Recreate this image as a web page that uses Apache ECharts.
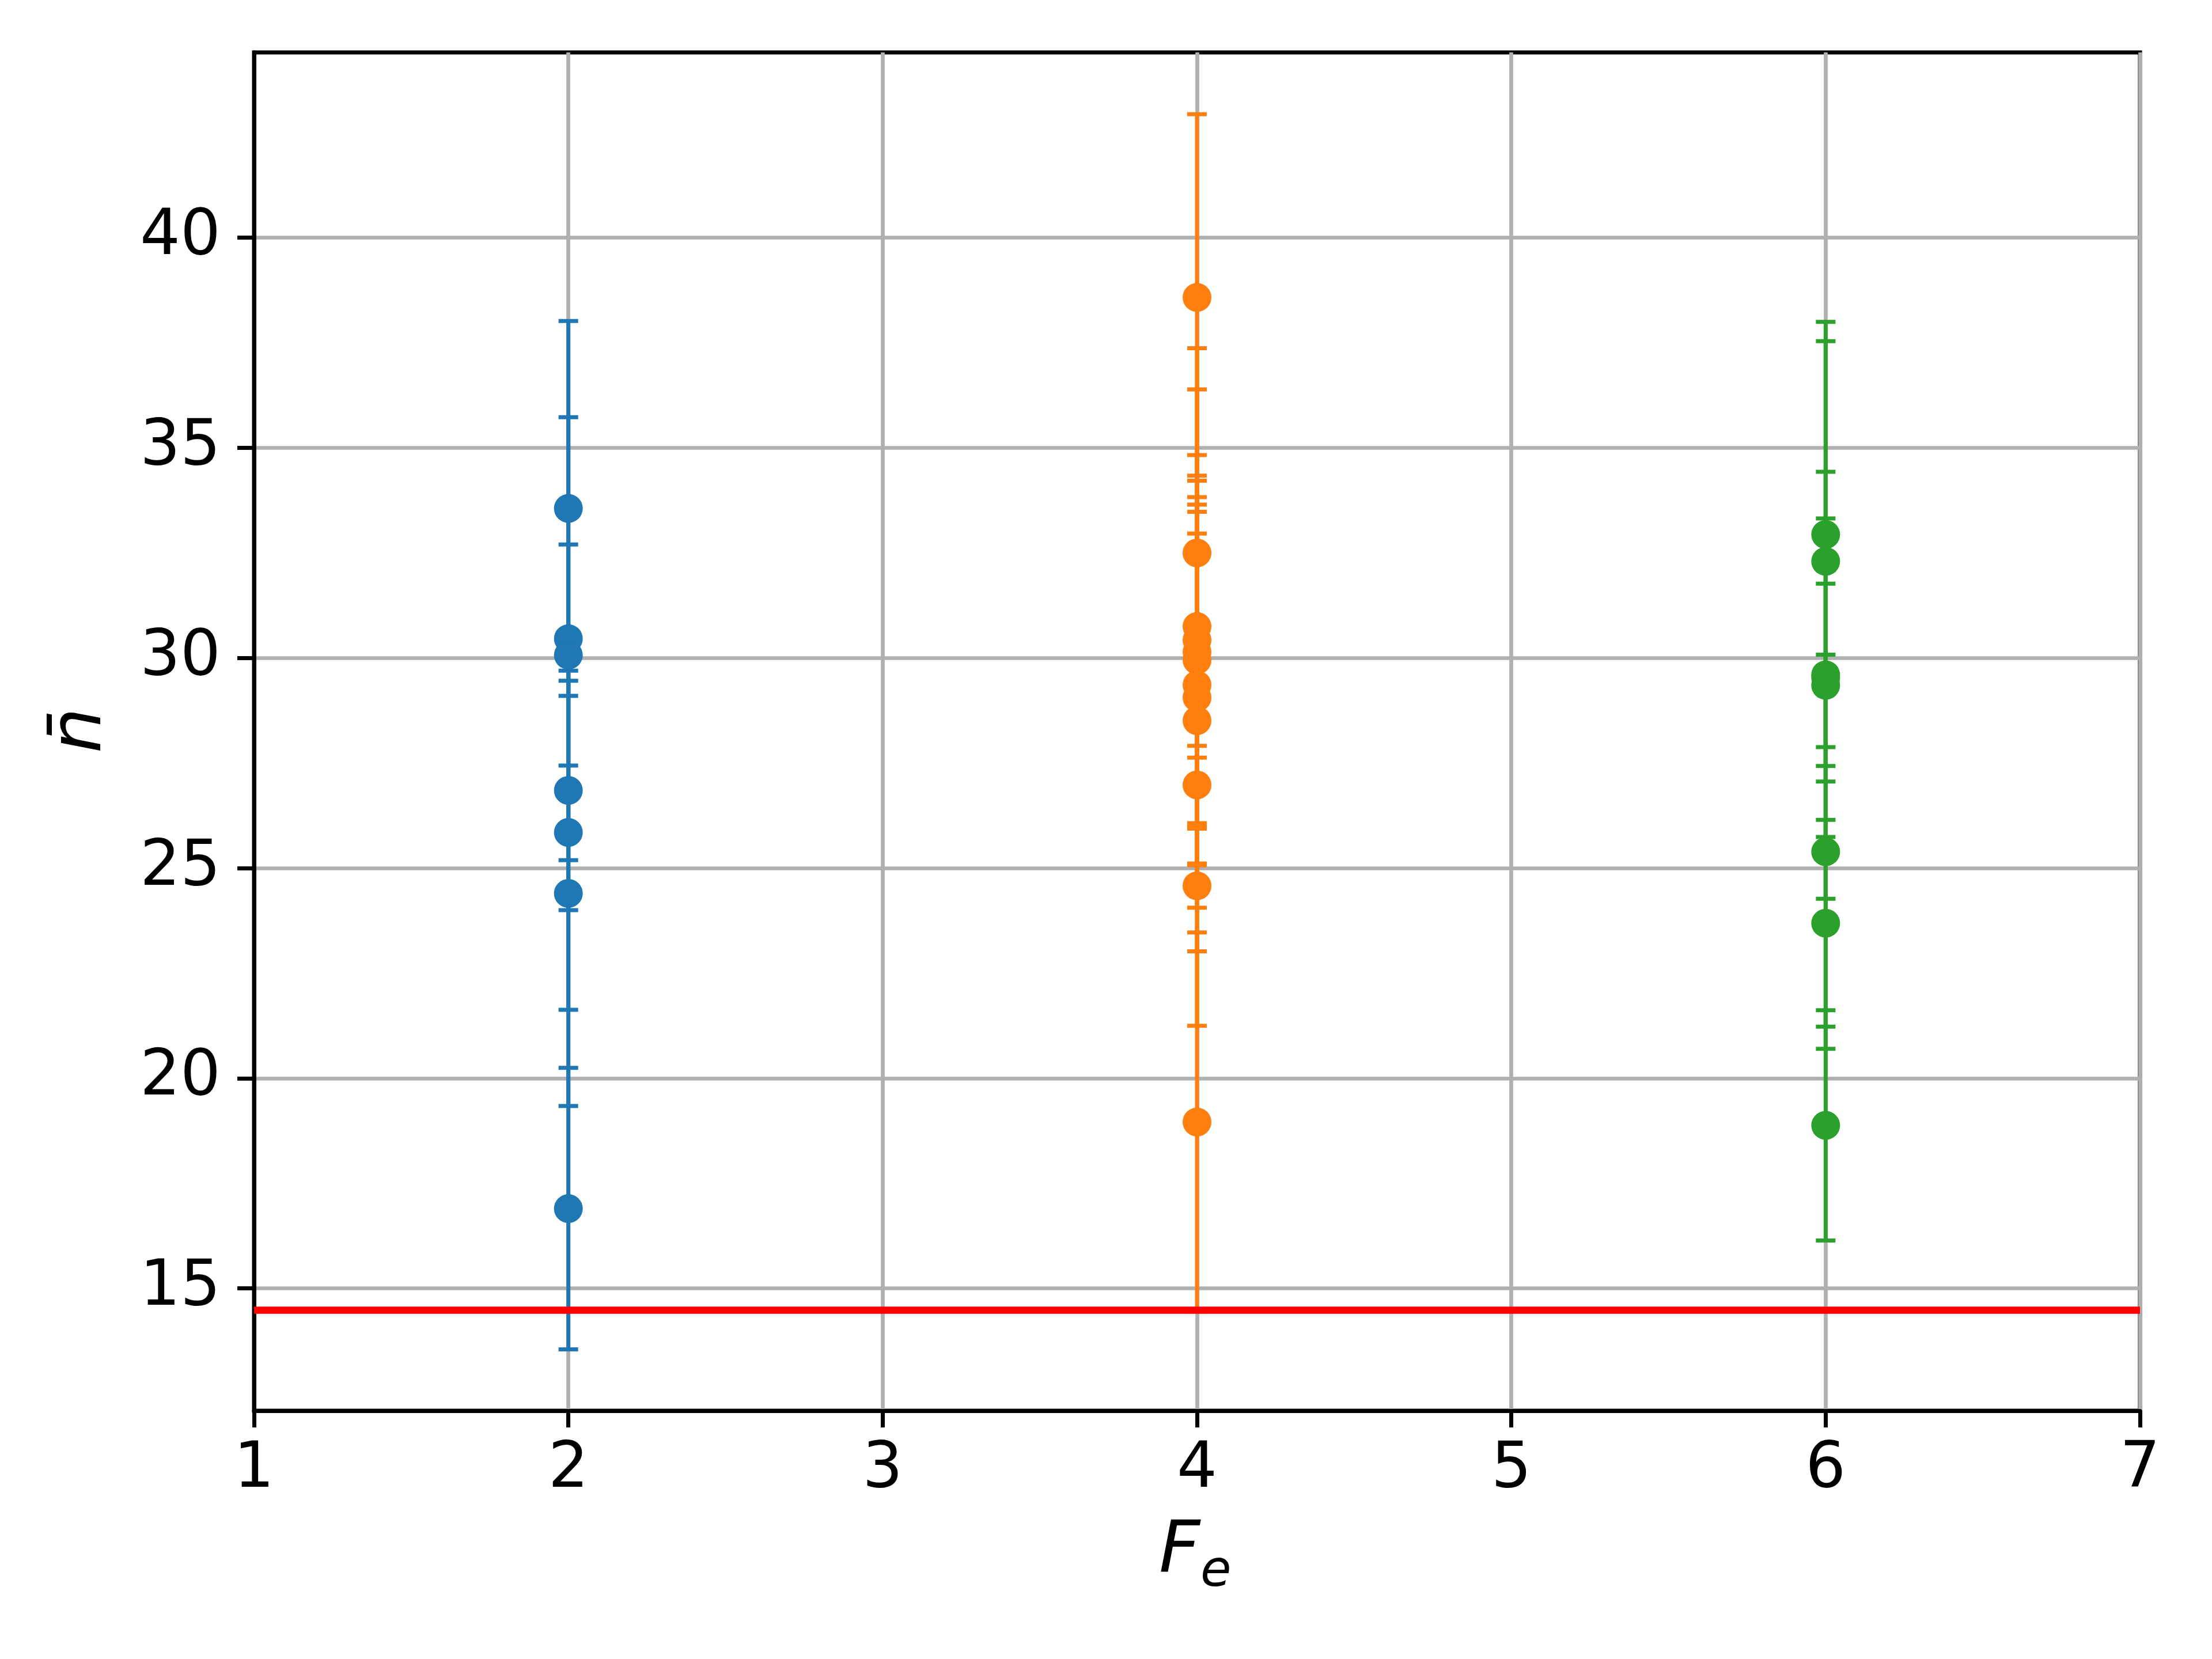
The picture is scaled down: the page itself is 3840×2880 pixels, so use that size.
<!DOCTYPE html>
<html>
<head>
<meta charset="utf-8">
<script src="https://cdn.jsdelivr.net/npm/echarts@6/dist/echarts.min.js"></script>
<style>html,body{margin:0;padding:0;background:#fff}#c{width:3840px;height:2880px}</style>
</head>
<body>
<div id="c"></div>
<script>
// ---- data ----
const xTickValues = [1, 2, 3, 4, 5, 6, 7];
const yTickValues = [15, 20, 25, 30, 35, 40];
const blueX = 2;
const blueMean = [33.56, 30.46, 30.07, 26.85, 25.85, 24.40, 16.90];
const blueErr  = [4.46, 5.27, 2.63, 2.85, 4.22, 5.06, 3.35];
const orangeX = 4;
const orangeMean = [38.58, 32.50, 30.75, 30.43, 30.14, 29.95, 29.36, 29.06, 28.51, 26.98, 24.58, 18.96];
const orangeErr  = [4.36, 4.87, 5.64, 4.40, 4.20, 3.88, 4.29, 4.42, 4.45, 3.96, 3.33, 4.51];
const greenX = 6;
const greenMean = [32.94, 32.30, 29.60, 29.53, 29.35, 25.39, 23.69, 18.88];
const greenErr  = [5.06, 5.24, 2.17, 3.79, 5.08, 4.69, 2.46, 2.74];
const redLevel = 14.49;
const xLabel = 'F';
const xLabelSub = 'e';
const yLabel = 'n\u0304';

const colors = { blue: '#1f77b4', orange: '#ff7f0e', green: '#2ca02c', red: '#ff0000' };
const FONT = "'DejaVu Sans'";

function errData(x, means, errs) { return means.map((m, i) => [x, m, errs[i]]); }
function ptData(x, means) { return means.map(m => [x, m]); }

function errRenderer(color) {
  return function (params, api) {
    const x = api.value(0), y = api.value(1), e = api.value(2);
    const hi = api.coord([x, y + e]), lo = api.coord([x, y - e]);
    const cw = 17;
    const style = { stroke: color, lineWidth: 7, fill: null };
    return {
      type: 'group',
      children: [
        { type: 'line', shape: { x1: hi[0], y1: hi[1], x2: lo[0], y2: lo[1] }, style: style },
        { type: 'line', shape: { x1: hi[0] - cw, y1: hi[1], x2: hi[0] + cw, y2: hi[1] }, style: style },
        { type: 'line', shape: { x1: lo[0] - cw, y1: lo[1], x2: lo[0] + cw, y2: lo[1] }, style: style }
      ]
    };
  };
}

const groups = [
  { x: blueX, mean: blueMean, err: blueErr, color: colors.blue },
  { x: orangeX, mean: orangeMean, err: orangeErr, color: colors.orange },
  { x: greenX, mean: greenMean, err: greenErr, color: colors.green }
];

const series = [];
groups.forEach(g => {
  series.push({
    type: 'custom', renderItem: errRenderer(g.color), data: errData(g.x, g.mean, g.err),
    encode: { x: 0, y: 1 }, z: 2, silent: true, animation: false
  });
});
groups.forEach(g => {
  series.push({
    type: 'scatter', data: ptData(g.x, g.mean), symbol: 'circle', symbolSize: 50,
    itemStyle: { color: g.color, opacity: 1 }, z: 3, silent: true, animation: false
  });
});
series.push({
  type: 'line', data: [], z: 4, silent: true, animation: false,
  markLine: {
    silent: true, symbol: 'none', animation: false,
    label: { show: false },
    lineStyle: { color: colors.red, width: 12.5, type: 'solid' },
    data: [{ yAxis: redLevel }]
  }
});

const chart = echarts.init(document.getElementById('c'), null, { renderer: 'canvas', width: 3840, height: 2880 });
chart.setOption({
  animation: false,
  backgroundColor: '#ffffff',
  grid: { left: 441, right: 125, top: 91, bottom: 431, show: true, borderColor: '#000', borderWidth: 7, backgroundColor: 'transparent' },
  xAxis: {
    type: 'value', min: 1, max: 7, interval: 1,
    axisLine: { show: true, lineStyle: { color: '#000', width: 7 } },
    axisTick: { show: true, inside: false, length: 29, lineStyle: { color: '#000', width: 7 } },
    axisLabel: { show: true, margin: 48, fontSize: 110, fontFamily: FONT, color: '#000' },
    splitLine: { show: true, lineStyle: { color: '#b0b0b0', width: 6.7 } }
  },
  yAxis: {
    type: 'value', min: 12.09, max: 44.41,
    axisLine: { show: true, lineStyle: { color: '#000', width: 7 } },
    axisTick: { show: true, inside: false, length: 29, customValues: yTickValues, lineStyle: { color: '#000', width: 7 } },
    axisLabel: { show: true, margin: 58, fontSize: 110, fontFamily: FONT, color: '#000', customValues: yTickValues },
    splitLine: { show: true, lineStyle: { color: '#b0b0b0', width: 6.7 } }
  },
  graphic: [
    { type: 'text', x: 2012, y: 2697, style: { text: xLabel, font: 'italic 124px ' + FONT, fill: '#000', textAlign: 'left', textVerticalAlign: 'middle' } },
    { type: 'text', x: 2084, y: 2730, style: { text: xLabelSub, font: 'italic 87px ' + FONT, fill: '#000', textAlign: 'left', textVerticalAlign: 'middle' } },
    { type: 'text', x: 142, y: 1268, rotation: Math.PI / 2, style: { text: yLabel, font: 'italic 124px ' + FONT, fill: '#000', textAlign: 'center', textVerticalAlign: 'middle' } }
  ],
  series: series
});
</script>
</body>
</html>
